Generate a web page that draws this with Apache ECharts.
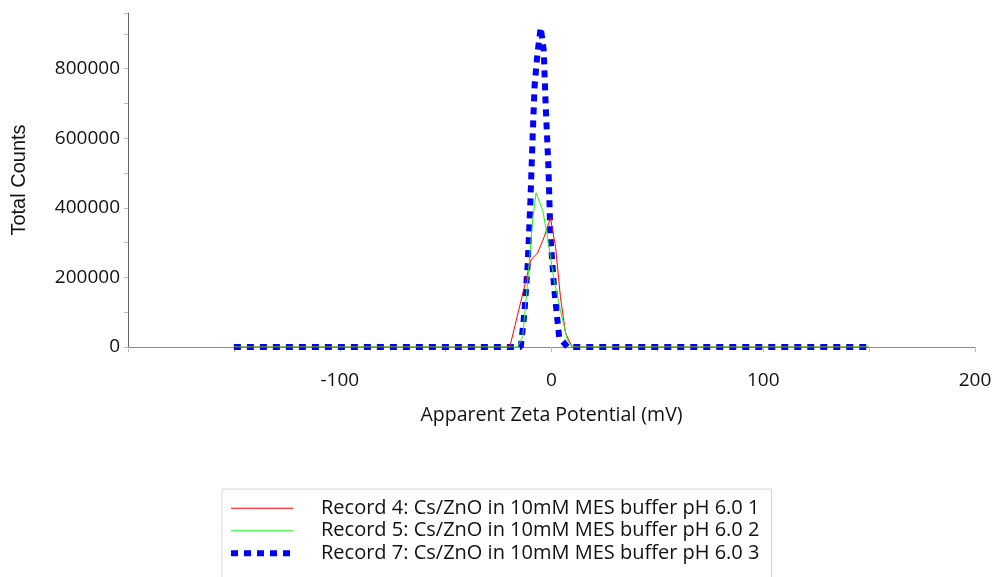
<!DOCTYPE html>
<html>
<head>
<meta charset="utf-8">
<script src="https://cdn.jsdelivr.net/npm/echarts@6/dist/echarts.min.js"></script>
<style>html,body{margin:0;padding:0;background:#fff;}#c{width:995px;height:577px;}</style>
</head>
<body>
<div id="c"></div>
<script>
// Data
const seriesNames = [
  'Record 4: Cs/ZnO in 10mM MES buffer pH 6.0 1',
  'Record 5: Cs/ZnO in 10mM MES buffer pH 6.0 2',
  'Record 7: Cs/ZnO in 10mM MES buffer pH 6.0 3'
];
const redX   = [-150, -19.7, -12.8, -9.8, -6.6, -3.4, -0.5, 1.9, 4.2, 6.6, 9.8, 150];
const redY   = [0, 0, 173000, 250000, 270000, 317000, 371000, 289000, 145000, 40000, 0, 0];
const greenX = [-150, -16, -13.6, -11.2, -8.9, -7.3, -4.2, -1.9, 1.2, 4.2, 7.5, 9.8, 150];
const greenY = [0, 0, 30000, 193000, 365000, 443000, 394000, 317000, 193000, 106000, 20000, 0, 0];
const blueX  = [-150, -14.5, -12.8, -11.2, -10, -8.9, -8, -6.6, -5.1, -3.7, -2.8, -1.4, -0.5, 1.2, 3.6, 7.5, 150];
const blueY  = [0, 0, 98000, 242000, 414000, 605000, 749000, 846000, 918000, 855000, 702000, 509000, 317000, 173000, 29000, 0, 0];
const xTickLabels = [-100, 0, 100, 200];
const yTickLabels = [0, 200000, 400000, 600000, 800000];

const zip = (xs, ys) => xs.map((x, i) => [x, ys[i]]);
const font = '"Open Sans", "Noto Sans", sans-serif';

const chart = echarts.init(document.getElementById('c'), null, {renderer: 'canvas'});
chart.setOption({
  animation: false,
  backgroundColor: '#ffffff',
  grid: {left: 128, right: 20, top: 13, bottom: 230, containLabel: false},
  xAxis: {
    type: 'value', min: -200, max: 200, interval: 50,
    name: 'Apparent Zeta Potential (mV)', nameLocation: 'middle', nameGap: 58,
    nameTextStyle: {fontFamily: font, fontSize: 19.5, color: '#111'},
    axisLine: {show: true, onZero: false, lineStyle: {color: '#8c8c8c', width: 1}},
    axisTick: {show: true, length: 5, lineStyle: {color: '#bbbbbb'}},
    splitLine: {show: false},
    axisLabel: {
      margin: 24, fontFamily: font, fontSize: 19, color: '#111',
      formatter: v => xTickLabels.includes(v) ? String(v) : ''
    }
  },
  yAxis: {
    type: 'value', min: 0, max: 960000, interval: 100000,
    name: 'Total Counts', nameLocation: 'middle', nameGap: 99, nameRotate: 90,
    nameTextStyle: {fontFamily: '"Liberation Sans", Arial, sans-serif', fontSize: 20, color: '#111'},
    axisLine: {show: true, onZero: false, lineStyle: {color: '#666666', width: 1}},
    axisTick: {show: true, length: 4, lineStyle: {color: '#bbbbbb'}},
    splitLine: {show: false},
    axisLabel: {
      margin: 8, fontFamily: font, fontSize: 19, color: '#111',
      formatter: v => yTickLabels.includes(v) ? String(v) : ''
    }
  },
  legend: {
    orient: 'vertical', left: 222, top: 489, height: 110,
    padding: [8, 12, 20, 6],
    borderColor: '#d4d4d4', borderWidth: 1,
    itemWidth: 62, itemHeight: 14, itemGap: 0,
    itemStyle: {opacity: 0},
    lineStyle: {width: 'inherit', type: 'inherit'},
    textStyle: {fontFamily: font, fontSize: 20, color: '#111', lineHeight: 22.5, padding: [0, 0, 0, 23]},
    data: seriesNames
  },
  series: [
    {name: seriesNames[0], type: 'line', data: zip(redX, redY), showSymbol: false, symbol: 'none',
     color: '#ff0000', lineStyle: {color: '#ff0000', width: 1}, z: 3},
    {name: seriesNames[1], type: 'line', data: zip(greenX, greenY), showSymbol: false, symbol: 'none',
     color: '#22ee22', lineStyle: {color: '#22ee22', width: 1}, z: 4},
    {name: seriesNames[2], type: 'line', data: zip(blueX, blueY), showSymbol: false, symbol: 'none',
     color: '#0000ff', lineStyle: {color: '#0000ff', width: 6, type: [7, 6], cap: 'butt'}, z: 2}
  ]
});
</script>
</body>
</html>
